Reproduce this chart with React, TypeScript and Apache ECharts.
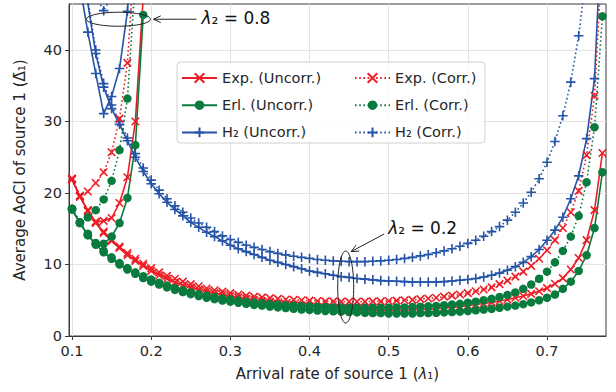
import React, { useEffect, useRef } from 'react';
import * as echarts from 'echarts';

// λ1 grid for λ2 = 0.2
const lambda1Low = [
  0.10, 0.11, 0.12, 0.13, 0.14, 0.15, 0.16, 0.17, 0.18, 0.19,
  0.20, 0.21, 0.22, 0.23, 0.24, 0.25, 0.26, 0.27, 0.28, 0.29,
  0.30, 0.31, 0.32, 0.33, 0.34, 0.35, 0.36, 0.37, 0.38, 0.39,
  0.40, 0.41, 0.42, 0.43, 0.44, 0.45, 0.46, 0.47, 0.48, 0.49,
  0.50, 0.51, 0.52, 0.53, 0.54, 0.55, 0.56, 0.57, 0.58, 0.59,
  0.60, 0.61, 0.62, 0.63, 0.64, 0.65, 0.66, 0.67, 0.68, 0.69,
  0.70, 0.71, 0.72, 0.73, 0.74, 0.75, 0.76, 0.77,
];
// λ1 grid for λ2 = 0.8
const lambda1High = [0.10, 0.11, 0.12, 0.13, 0.14, 0.15, 0.16, 0.17, 0.18, 0.19];

// λ2 = 0.2
const expUncorr02 = [
  21.9, 19.5, 17.5, 15.8, 14.4, 13.3, 12.3, 11.3, 10.5, 9.8,
  9.1, 8.5, 8.0, 7.5, 7.1, 6.8, 6.5, 6.25, 6.0, 5.8,
  5.6, 5.4, 5.2, 5.0, 4.85, 4.7, 4.55, 4.45, 4.35, 4.25,
  4.15, 4.05, 3.95, 3.9, 3.8, 3.75, 3.7, 3.65, 3.6, 3.6,
  3.6, 3.6, 3.6, 3.65, 3.7, 3.75, 3.8, 3.9, 4.0, 4.1,
  4.25, 4.4, 4.55, 4.7, 4.9, 5.1, 5.35, 5.6, 5.9, 6.25,
  6.7, 7.3, 8.1, 9.3, 10.9, 13.4, 17.6, 25.6,
];
const erlUncorr02 = [
  17.7, 15.8, 14.1, 12.8, 11.7, 10.8, 10.0, 9.3, 8.7, 8.1,
  7.6, 7.2, 6.8, 6.45, 6.15, 5.85, 5.6, 5.35, 5.15, 4.95,
  4.8, 4.65, 4.5, 4.35, 4.25, 4.1, 4.0, 3.9, 3.8, 3.7,
  3.65, 3.55, 3.5, 3.45, 3.4, 3.35, 3.3, 3.25, 3.2, 3.2,
  3.15, 3.15, 3.15, 3.15, 3.2, 3.2, 3.25, 3.3, 3.35, 3.4,
  3.5, 3.6, 3.7, 3.8, 3.95, 4.1, 4.25, 4.45, 4.7, 5.0,
  5.35, 5.8, 6.6, 7.6, 9.1, 11.3, 15.1, 22.9,
];
const h2Uncorr02 = [
  70, 56, 46.5, 39.5, 34.8, 31.8, 29.6, 27.3, 25.0, 23.0,
  21.3, 19.9, 18.7, 17.7, 16.8, 15.9, 15.2, 14.5, 13.9, 13.3,
  12.7, 12.2, 11.8, 11.4, 11.0, 10.6, 10.3, 10.0, 9.7, 9.4,
  9.1, 8.9, 8.7, 8.5, 8.3, 8.2, 8.05, 7.95, 7.85, 7.75,
  7.7, 7.65, 7.6, 7.55, 7.55, 7.55, 7.55, 7.6, 7.7, 7.8,
  7.9, 8.05, 8.25, 8.5, 8.8, 9.2, 9.7, 10.3, 11.1, 12.1,
  13.4, 14.8, 16.6, 19.2, 22.4, 27.6, 36.0, 60,
];
const expCorr02 = [
  22.0, 19.6, 17.6, 16.0, 14.6, 13.5, 12.5, 11.6, 10.8, 10.1,
  9.5, 8.9, 8.4, 8.0, 7.6, 7.25, 6.95, 6.65, 6.4, 6.2,
  6.0, 5.8, 5.65, 5.5, 5.4, 5.3, 5.2, 5.1, 5.05, 5.0,
  4.95, 4.9, 4.85, 4.85, 4.8, 4.8, 4.8, 4.8, 4.85, 4.85,
  4.9, 4.95, 5.0, 5.05, 5.15, 5.25, 5.35, 5.5, 5.65, 5.8,
  6.0, 6.25, 6.5, 6.8, 7.25, 7.75, 8.3, 9.0, 9.8, 10.8,
  12.0, 13.4, 15.1, 17.3, 20.3, 25.3, 33.6, 54,
];
const erlCorr02 = [
  17.8, 15.9, 14.3, 13.0, 11.9, 11.0, 10.2, 9.5, 8.9, 8.35,
  7.9, 7.45, 7.05, 6.7, 6.4, 6.1, 5.85, 5.65, 5.45, 5.25,
  5.1, 4.95, 4.8, 4.7, 4.6, 4.5, 4.4, 4.3, 4.25, 4.2,
  4.15, 4.1, 4.05, 4.0, 4.0, 3.95, 3.95, 3.95, 3.95, 3.95,
  3.95, 4.0, 4.0, 4.05, 4.1, 4.15, 4.2, 4.3, 4.4, 4.5,
  4.65, 4.8, 5.0, 5.2, 5.45, 5.75, 6.1, 6.6, 7.2, 8.0,
  9.0, 10.3, 11.9, 13.9, 16.8, 21.5, 29.2, 44.7,
];
const h2Corr02 = [
  71, 57, 47, 40, 35.3, 32.3, 30.0, 27.7, 25.5, 23.5,
  21.8, 20.4, 19.2, 18.2, 17.3, 16.5, 15.8, 15.2, 14.6, 14.0,
  13.5, 13.1, 12.7, 12.4, 12.1, 11.8, 11.55, 11.35, 11.15, 11.0,
  10.85, 10.7, 10.6, 10.5, 10.45, 10.4, 10.4, 10.4, 10.45, 10.5,
  10.6, 10.7, 10.85, 11.0, 11.2, 11.4, 11.65, 11.9, 12.2, 12.55,
  12.95, 13.4, 13.95, 14.6, 15.3, 16.2, 17.3, 18.6, 20.1, 22.0,
  24.3, 27.2, 30.8, 35.5, 42.0, 51, 64, 85,
];

// λ2 = 0.8
const expUncorr08 = [21.9, 19.5, 17.5, 15.9, 16.1, 16.5, 18.6, 22.2, 30.0, 47.5];
const erlUncorr08 = [17.7, 15.8, 14.1, 12.8, 12.9, 13.9, 15.8, 19.3, 26.7, 44.9];
const h2Uncorr08 = [62, 49, 42.5, 36.7, 31.1, 33.5, 37.4, 45.4, 62, 110];
const expCorr08 = [22.0, 19.6, 20.2, 21.4, 22.9, 25.7, 30.4, 38.2, 55, 95];
const erlCorr08 = [17.8, 15.9, 16.6, 17.6, 19.1, 21.7, 26.0, 33.2, 50, 85];
const h2Corr08 = [80, 62, 52, 47.5, 45.5, 47.5, 55, 70, 100, 160];

const xTicks = [0.1, 0.2, 0.3, 0.4, 0.5, 0.6, 0.7];
const yTicks = [0, 10, 20, 30, 40];

const NAMES = {
  expU: 'Exp. (Uncorr.)',
  erlU: 'Erl. (Uncorr.)',
  h2U: 'H₂ (Uncorr.)',
  expC: 'Exp. (Corr.)',
  erlC: 'Erl. (Corr.)',
  h2C: 'H₂ (Corr.)',
};

const RED = '#ec1d25';
const GREEN = '#0a7b3e';
const BLUE = '#2553a8';
const X_SYM = 'path://M0,0L10,10M10,0L0,10';
const PLUS_SYM = 'path://M5,0L5,10M0,5L10,5';
const FONT = 'DejaVu Sans';
const TXT = '#262626';

function mk(name: string, xs: number[], ys: number[], color: string, kind: 'x' | 'o' | '+', dotted: boolean) {
  const symbol = kind === 'x' ? X_SYM : kind === '+' ? PLUS_SYM : 'circle';
  const size = kind === 'x' ? 7.5 : kind === '+' ? 9.5 : 8.5;
  return {
    type: 'line',
    name,
    data: xs.map((x, i) => [x, ys[i]]),
    symbol,
    symbolSize: size,
    showSymbol: true,
    showAllSymbol: true,
    clip: true,
    silent: true,
    animation: false,
    emphasis: { disabled: true },
    lineStyle: { color, width: 1.6, type: dotted ? [1.6, 2.6] : 'solid' },
    itemStyle: { color, borderColor: color, borderWidth: kind === 'o' ? 0 : 1.6 },
  };
}

export default function App() {
  const ref = useRef<HTMLDivElement>(null);
  useEffect(() => {
    const chart = echarts.init(ref.current!, null, { renderer: 'svg' });
    const legendCommon = {
      orient: 'vertical',
      padding: 0,
      itemWidth: 35,
      itemHeight: 12,
      itemGap: 12.2,
      selectedMode: false,
      textStyle: { fontFamily: FONT, fontSize: 14.5, color: TXT },
    };
    chart.setOption({
      animation: false,
      textStyle: { fontFamily: FONT },
      grid: {
        left: 69, right: 10, top: 4, bottom: 56,
        show: true, borderColor: '#3a3a3a', borderWidth: 1, backgroundColor: 'transparent',
      },
      xAxis: {
        type: 'value',
        min: 0.0962,
        max: 0.7745,
        name: 'Arrival rate of source 1 ({i|λ}₁)',
        nameLocation: 'middle',
        nameGap: 30,
        nameTextStyle: {
          fontFamily: FONT, fontSize: 15, color: TXT,
          rich: { i: { fontStyle: 'italic', fontFamily: FONT, fontSize: 15, color: TXT } },
        },
        axisLine: { show: true, lineStyle: { color: '#3a3a3a', width: 1 } },
        axisTick: { show: true, length: 4, customValues: xTicks, lineStyle: { color: '#3a3a3a' } },
        axisLabel: {
          customValues: xTicks, fontSize: 14.5, color: TXT, fontFamily: FONT, margin: 7,
          formatter: (v: number) => v.toFixed(1),
        },
        splitLine: { show: true, lineStyle: { color: '#e3e3e3', width: 1 } },
      },
      yAxis: {
        type: 'value',
        min: 0,
        max: 46.43,
        name: 'Average AoCI of source 1 (Δ̄₁)',
        nameLocation: 'middle',
        nameGap: 42,
        nameTextStyle: { fontFamily: FONT, fontSize: 15, color: TXT },
        axisLine: { show: true, lineStyle: { color: '#3a3a3a', width: 1 } },
        axisTick: { show: true, length: 4, customValues: yTicks, lineStyle: { color: '#3a3a3a' } },
        axisLabel: { customValues: yTicks, fontSize: 14.5, color: TXT, fontFamily: FONT, margin: 7 },
        splitLine: { show: true, lineStyle: { color: '#e3e3e3', width: 1 } },
      },
      legend: [
        { ...legendCommon, left: 181, top: 70.5, data: [NAMES.expU, NAMES.erlU, NAMES.h2U] },
        { ...legendCommon, left: 354, top: 70.5, data: [NAMES.expC, NAMES.erlC, NAMES.h2C] },
      ],
      series: [
        mk(NAMES.expU, lambda1Low, expUncorr02, RED, 'x', false),
        mk(NAMES.erlU, lambda1Low, erlUncorr02, GREEN, 'o', false),
        mk(NAMES.h2U, lambda1Low, h2Uncorr02, BLUE, '+', false),
        mk(NAMES.expC, lambda1Low, expCorr02, RED, 'x', true),
        mk(NAMES.erlC, lambda1Low, erlCorr02, GREEN, 'o', true),
        mk(NAMES.h2C, lambda1Low, h2Corr02, BLUE, '+', true),
        mk(NAMES.expU, lambda1High, expUncorr08, RED, 'x', false),
        mk(NAMES.erlU, lambda1High, erlUncorr08, GREEN, 'o', false),
        mk(NAMES.h2U, lambda1High, h2Uncorr08, BLUE, '+', false),
        mk(NAMES.expC, lambda1High, expCorr08, RED, 'x', true),
        mk(NAMES.erlC, lambda1High, erlCorr08, GREEN, 'o', true),
        mk(NAMES.h2C, lambda1High, h2Corr08, BLUE, '+', true),
      ],
    });

    const px = (x: number, y: number) => chart.convertToPixel({ gridIndex: 0 }, [x, y]) as number[];
    const e1 = px(0.1587, 44.3);
    const e2 = px(0.4457, 6.85);
    const ann = { stroke: '#222', lineWidth: 1, fill: 'none' };
    const tip1 = [e1[0] + 35, e1[1]];
    const tail1 = [e1[0] + 78, e1[1]];
    const tip2 = [e2[0] + 5.5, e2[1] - 35.5];
    const tail2 = [e2[0] + 38.5, e2[1] - 53];
    const head = (tip: number[], tail: number[]) => {
      const dx = tail[0] - tip[0];
      const dy = tail[1] - tip[1];
      const L = Math.hypot(dx, dy);
      const ux = dx / L, uy = dy / L;
      const a = (25 * Math.PI) / 180;
      const len = 8;
      const r1 = [ux * Math.cos(a) - uy * Math.sin(a), ux * Math.sin(a) + uy * Math.cos(a)];
      const r2 = [ux * Math.cos(-a) - uy * Math.sin(-a), ux * Math.sin(-a) + uy * Math.cos(-a)];
      return [[tip[0] + r1[0] * len, tip[1] + r1[1] * len], tip, [tip[0] + r2[0] * len, tip[1] + r2[1] * len]];
    };
    const lamRich = {
      i: { fontStyle: 'italic', fontFamily: FONT, fontSize: 17, fill: '#111' },
      n: { fontFamily: FONT, fontSize: 17, fill: '#111' },
    };
    chart.setOption({
      graphic: [
        { type: 'rect', z: 3, silent: true, shape: { x: 177, y: 62, width: 308, height: 81, r: 4 },
          style: { fill: 'rgba(255,255,255,0.85)', stroke: '#d0d0d0', lineWidth: 1 } },
        { type: 'ellipse', z: 5, silent: true, shape: { cx: e1[0], cy: e1[1], rx: 32, ry: 7 }, style: ann },
        { type: 'ellipse', z: 5, silent: true, shape: { cx: e2[0], cy: e2[1], rx: 8, ry: 36 }, style: ann },
        { type: 'line', z: 5, silent: true, shape: { x1: tip1[0], y1: tip1[1], x2: tail1[0], y2: tail1[1] }, style: { stroke: '#222', lineWidth: 1 } },
        { type: 'polyline', z: 5, silent: true, shape: { points: head(tip1, tail1) }, style: { stroke: '#222', lineWidth: 1, fill: 'none' } },
        { type: 'line', z: 5, silent: true, shape: { x1: tip2[0], y1: tip2[1], x2: tail2[0], y2: tail2[1] }, style: { stroke: '#222', lineWidth: 1 } },
        { type: 'polyline', z: 5, silent: true, shape: { points: head(tip2, tail2) }, style: { stroke: '#222', lineWidth: 1, fill: 'none' } },
        { type: 'text', z: 5, silent: true, x: tail1[0] + 5, y: e1[1] - 1,
          style: { text: '{i|λ}{n|₂ = 0.8}', rich: lamRich, verticalAlign: 'middle', align: 'left', fontFamily: FONT, fontSize: 17 } },
        { type: 'text', z: 5, silent: true, x: tail2[0] + 4, y: tail2[1] - 6,
          style: { text: '{i|λ}{n|₂ = 0.2}', rich: lamRich, verticalAlign: 'middle', align: 'left', fontFamily: FONT, fontSize: 17 } },
      ],
    });
    return () => chart.dispose();
  }, []);
  return <div ref={ref} style={{ position: 'absolute', left: 0, top: 0, width: 616, height: 392 }} />;
}
